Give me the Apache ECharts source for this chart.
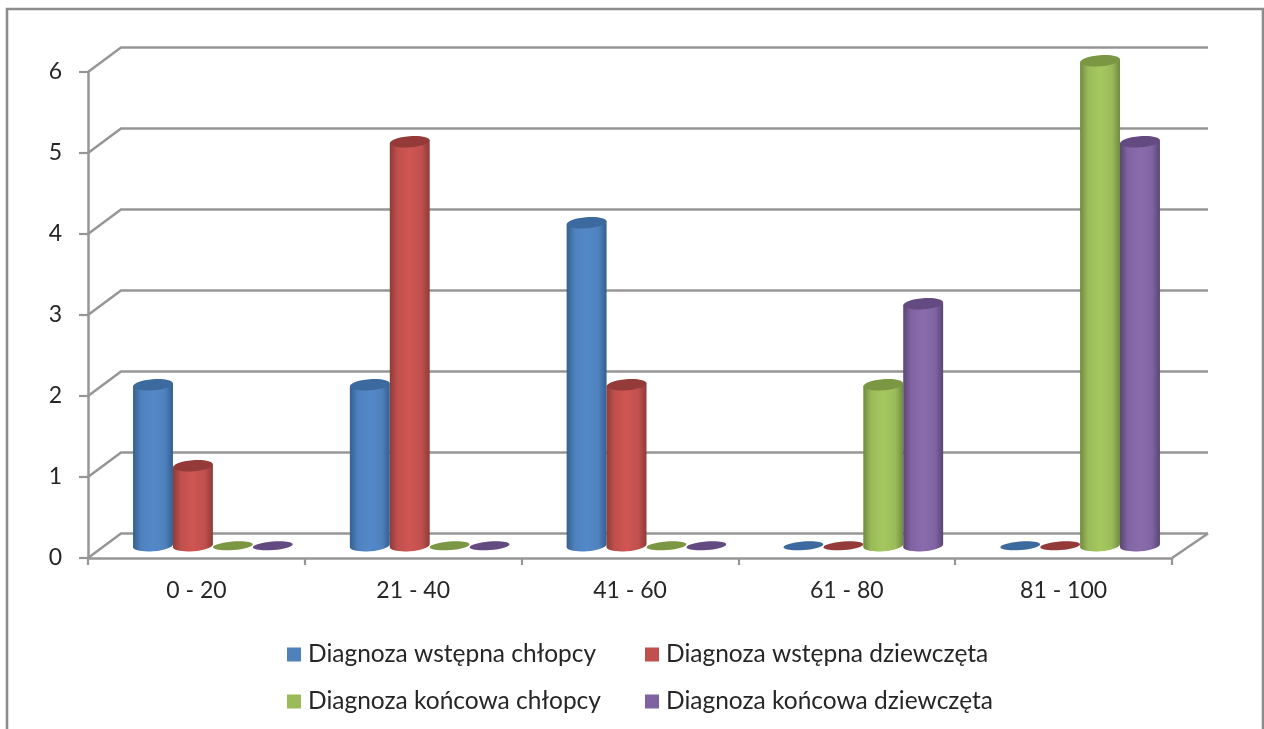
<!DOCTYPE html>
<html><head><meta charset="utf-8">
<style>html,body{margin:0;padding:0;background:#fff}#c{width:1264px;height:729px}</style>
<script src="https://cdn.jsdelivr.net/npm/echarts@6/dist/echarts.min.js"></script>
</head><body><div id="c"></div>
<script>
const categories = ['0 - 20','21 - 40','41 - 60','61 - 80','81 - 100'];
const yTicks = [0,1,2,3,4,5,6];
const wstepnaChlopcy = [2,2,4,0,0];
const wstepnaDziewczeta = [1,5,2,0,0];
const koncowaChlopcy = [0,0,0,2,6];
const koncowaDziewczeta = [0,0,0,3,5];
const seriesNames = ['Diagnoza wstępna chłopcy','Diagnoza wstępna dziewczęta','Diagnoza końcowa chłopcy','Diagnoza końcowa dziewczęta'];
const seriesValues = [wstepnaChlopcy,wstepnaDziewczeta,koncowaChlopcy,koncowaDziewczeta];
const palette = [
 {base:'#4f81bd',edge:'#35608f',mid:'#5389c9',top:'#3c6a9f'},
 {base:'#c0504d',edge:'#8f3b39',mid:'#cf5653',top:'#943b39'},
 {base:'#9bbb59',edge:'#708a40',mid:'#a6c860',top:'#7b9743'},
 {base:'#8064a2',edge:'#5a4672',mid:'#8a6cae',top:'#634a80'}
];
const DEPTH_X = 33, DEPTH_RIGHT = 36, DEPTH_Y = 24.5, TILT = 0.08, GAP = 1.43;
const FONT = 'Lato, "Noto Sans", sans-serif', TEXT = '#262626', GRID = '#969696';

function wallItem(params, api){
  const v = api.value(0);
  const p0 = api.coord([0,v]);
  const cs = params.coordSys;
  const left = cs.x, right = cs.x + cs.width;
  const y = p0[1];
  const children = [{type:'polyline',shape:{points:[[left,y],[left+DEPTH_X,y-DEPTH_Y],[right+DEPTH_RIGHT,y-DEPTH_Y]]},
    style:{fill:null,stroke:GRID,lineWidth:2.5}}];
  if(v===0){
    children.push({type:'line',shape:{x1:right,y1:y,x2:right+DEPTH_RIGHT,y2:y-DEPTH_Y},style:{stroke:GRID,lineWidth:2.5}});
  }
  return {type:'group',children};
}

function barRenderer(idx){
  const c = palette[idx];
  return function(params, api){
    const cat = api.value(0), val = api.value(1);
    const band = api.size([1,0])[0];
    const bw = band/(4+GAP);
    const rx = bw/2;
    const cx = api.coord([cat,0])[0] + DEPTH_X/2 + (idx-1.5)*bw;
    const yb = api.coord([cat,0])[1] - DEPTH_Y/2;
    const yt = api.coord([cat,val])[1] - DEPTH_Y/2 + 1;
    const dt = rx*Math.sin(TILT);
    if(val===0){
      return {type:'ellipse',x:cx,y:yb,rotation:TILT,shape:{cx:0,cy:0,rx:rx,ry:4.3},style:{fill:c.top}};
    }
    const grad = {type:'linear',x:0,y:0,x2:1,y2:0,colorStops:[
      {offset:0,color:c.edge},{offset:0.2,color:c.base},{offset:0.5,color:c.mid},{offset:0.8,color:c.base},{offset:1,color:c.edge}]};
    return {type:'group',children:[
      {type:'ellipse',x:cx,y:yb,rotation:TILT,shape:{cx:0,cy:0,rx:rx,ry:5.5},style:{fill:grad}},
      {type:'polygon',shape:{points:[[cx-rx,yt+dt],[cx+rx,yt-dt],[cx+rx,yb-dt],[cx-rx,yb+dt]]},style:{fill:grad}},
      {type:'ellipse',x:cx,y:yt,rotation:TILT,shape:{cx:0,cy:0,rx:rx,ry:5.6},style:{fill:c.top}}
    ]};
  };
}

const legendPos = [[282,637],[640,637],[282,684],[640,684]];
const chart = echarts.init(document.getElementById('c'),null,{renderer:'canvas'});
chart.setOption({
  animation:false,
  backgroundColor:'#fff',
  textStyle:{fontFamily:FONT},
  grid:{left:88,right:92,top:72,bottom:171},
  xAxis:{type:'category',data:categories,boundaryGap:true,
    axisLine:{lineStyle:{color:GRID,width:2.5}},
    axisTick:{show:true,alignWithLabel:false,length:7,lineStyle:{color:GRID,width:2.2}},
    axisLabel:{color:TEXT,fontSize:23,fontFamily:FONT,margin:21},splitLine:{show:false}},
  yAxis:{type:'value',min:0,max:6,interval:1,
    axisLine:{show:true,lineStyle:{color:GRID,width:2.5}},
    axisTick:{show:true,length:9,lineStyle:{color:GRID,width:2.2}},
    axisLabel:{color:TEXT,fontSize:23,fontFamily:FONT,margin:26},splitLine:{show:false}},
  legend:seriesNames.map((n,i)=>({data:[n],left:legendPos[i][0],top:legendPos[i][1],icon:'rect',itemWidth:14,itemHeight:14,itemGap:8,
    selectedMode:false,textStyle:{color:TEXT,fontSize:24.5,fontFamily:FONT,padding:[0,0,0,2]}})),
  graphic:[{type:'rect',shape:{x:7,y:9,width:1256,height:760},style:{fill:null,stroke:'#8c8c8c',lineWidth:2.6},silent:true,z:100}],
  series:[
    {type:'custom',name:'walls',silent:true,z:1,clip:false,data:yTicks.map(v=>[v]),encode:{y:0},renderItem:wallItem},
    ...seriesNames.map((n,i)=>({type:'custom',name:n,z:3+i,clip:false,itemStyle:{color:palette[i].base},
      data:categories.map((_,k)=>[k,seriesValues[i][k]]),encode:{x:0,y:1},renderItem:barRenderer(i)}))
  ]
});
</script></body></html>
